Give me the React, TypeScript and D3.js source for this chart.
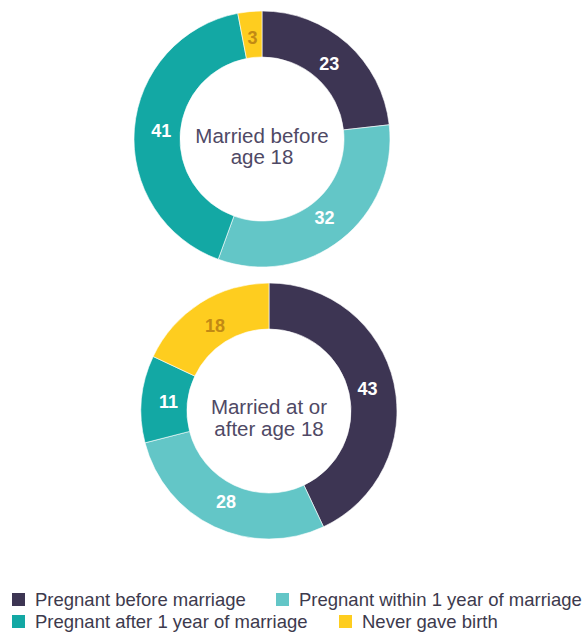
import React from "react";
import * as d3 from "d3";

const categories = [
  "Pregnant before marriage",
  "Pregnant within 1 year of marriage",
  "Pregnant after 1 year of marriage",
  "Never gave birth",
];
const colors = ["#3d3553", "#63c6c7", "#13a8a4", "#fecd1f"];
const labelColors = ["#ffffff", "#ffffff", "#ffffff", "#c28a14"];
const before18Values = [23, 32, 41, 3];
const after18Values = [43, 28, 11, 18];
const before18Title = ["Married before", "age 18"];
const after18Title = ["Married at or", "after age 18"];

const W = 587;
const H = 632;
const FONT = "'Liberation Sans', Arial, sans-serif";

function Donut({
  cx,
  cy,
  values,
  title,
  base,
  gap,
}: {
  cx: number;
  cy: number;
  values: number[];
  title: string[];
  base: number;
  gap: number;
}) {
  const outer = 128;
  const inner = 82;
  const pie = d3.pie<number>().sort(null).value((d) => d);
  const arcs = pie(values);
  const arc = d3.arc<d3.PieArcDatum<number>>().innerRadius(inner).outerRadius(outer);
  const labelArc = d3.arc<d3.PieArcDatum<number>>().innerRadius(80).outerRadius(122);
  return (
    <g transform={`translate(${cx},${cy})`}>
      {arcs.map((a, i) => (
        <path key={i} d={arc(a) || ""} fill={colors[i]} stroke="#ffffff" strokeWidth={0.6} />
      ))}
      {arcs.map((a, i) => {
        const [x, y] = labelArc.centroid(a);
        return (
          <text
            key={"l" + i}
            x={x}
            y={y}
            textAnchor="middle"
            dominantBaseline="central"
            fontFamily={FONT}
            fontWeight={700}
            fontSize={18}
            fill={labelColors[i]}
          >
            {values[i]}
          </text>
        );
      })}
      {title.map((t, i) => (
        <text
          key={"t" + i}
          x={0}
          y={base + i * gap}
          textAnchor="middle"
          fontFamily={FONT}
          fontSize={20.5}
          fill="#4f4965"
        >
          {t}
        </text>
      ))}
    </g>
  );
}

export default function App() {
  const legendPos = [
    { x: 12, y: 593 },
    { x: 276, y: 593 },
    { x: 12, y: 615 },
    { x: 339, y: 615 },
  ];
  return (
    <svg
      width={W}
      height={H}
      style={{ position: "absolute", left: 0, top: 0, background: "#ffffff" }}
    >
      <Donut cx={262} cy={139} values={before18Values} title={before18Title} base={3.5} gap={21} />
      <Donut cx={269} cy={411} values={after18Values} title={after18Title} base={2.5} gap={22.5} />
      {categories.map((c, i) => (
        <g key={c} transform={`translate(${legendPos[i].x},${legendPos[i].y})`}>
          <rect x={0} y={0} width={13} height={13} fill={colors[i]} />
          <text
            x={23}
            y={12.5}
            fontFamily={FONT}
            fontSize={18.5}
            fill="#3d3a4d"
          >
            {c}
          </text>
        </g>
      ))}
    </svg>
  );
}
